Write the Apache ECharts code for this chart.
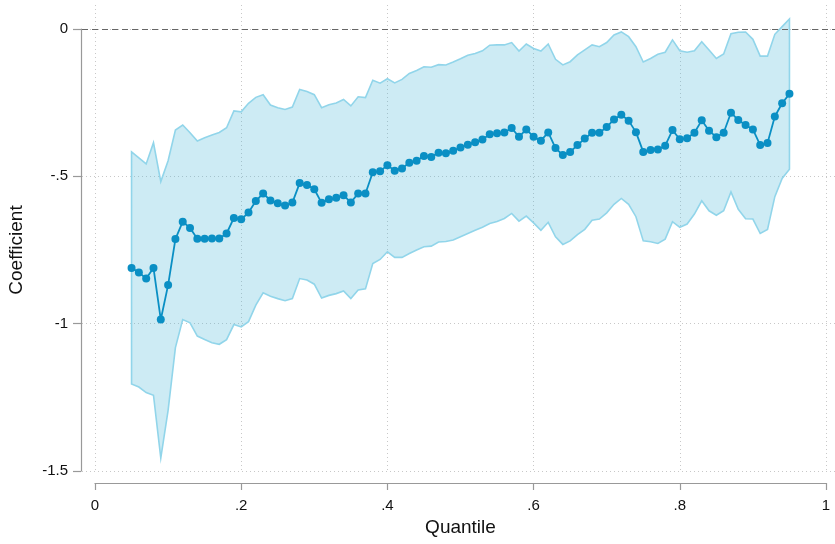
<!DOCTYPE html>
<html>
<head>
<meta charset="utf-8">
<script src="https://cdn.jsdelivr.net/npm/echarts@6/dist/echarts.min.js"></script>
<style>
  html, body { margin: 0; padding: 0; background: #fff; }
  #chart { width: 835px; height: 544px; }
</style>
</head>
<body>
<div id="chart"></div>
<script>
const quantiles = [0.05, 0.06, 0.07, 0.08, 0.09, 0.10, 0.11, 0.12, 0.13, 0.14,
  0.15, 0.16, 0.17, 0.18, 0.19, 0.20, 0.21, 0.22, 0.23, 0.24,
  0.25, 0.26, 0.27, 0.28, 0.29, 0.30, 0.31, 0.32, 0.33, 0.34,
  0.35, 0.36, 0.37, 0.38, 0.39, 0.40, 0.41, 0.42, 0.43, 0.44,
  0.45, 0.46, 0.47, 0.48, 0.49, 0.50, 0.51, 0.52, 0.53, 0.54,
  0.55, 0.56, 0.57, 0.58, 0.59, 0.60, 0.61, 0.62, 0.63, 0.64,
  0.65, 0.66, 0.67, 0.68, 0.69, 0.70, 0.71, 0.72, 0.73, 0.74,
  0.75, 0.76, 0.77, 0.78, 0.79, 0.80, 0.81, 0.82, 0.83, 0.84,
  0.85, 0.86, 0.87, 0.88, 0.89, 0.90, 0.91, 0.92, 0.93, 0.94,
  0.95]

const coef = [-0.811, -0.826, -0.847, -0.811, -0.986, -0.869, -0.713, -0.654, -0.675, -0.712,
  -0.712, -0.711, -0.711, -0.694, -0.641, -0.646, -0.623, -0.584, -0.558, -0.582,
  -0.591, -0.599, -0.589, -0.523, -0.529, -0.544, -0.590, -0.578, -0.573, -0.564,
  -0.589, -0.558, -0.558, -0.486, -0.483, -0.462, -0.481, -0.473, -0.454, -0.447,
  -0.431, -0.434, -0.420, -0.422, -0.413, -0.402, -0.393, -0.384, -0.375, -0.357,
  -0.354, -0.351, -0.336, -0.366, -0.341, -0.366, -0.379, -0.351, -0.404, -0.428,
  -0.417, -0.394, -0.372, -0.352, -0.352, -0.333, -0.307, -0.291, -0.311, -0.350,
  -0.417, -0.411, -0.409, -0.396, -0.343, -0.374, -0.371, -0.352, -0.310, -0.345,
  -0.367, -0.352, -0.284, -0.309, -0.326, -0.341, -0.394, -0.387, -0.297, -0.252,
  -0.220]

const upper = [-0.417, -0.437, -0.458, -0.386, -0.518, -0.447, -0.343, -0.326, -0.352, -0.380,
  -0.369, -0.360, -0.351, -0.335, -0.278, -0.281, -0.252, -0.232, -0.223, -0.258,
  -0.267, -0.273, -0.265, -0.205, -0.212, -0.223, -0.267, -0.257, -0.251, -0.239,
  -0.261, -0.230, -0.233, -0.174, -0.184, -0.169, -0.183, -0.171, -0.151, -0.141,
  -0.128, -0.130, -0.121, -0.122, -0.112, -0.101, -0.089, -0.083, -0.074, -0.055,
  -0.054, -0.054, -0.046, -0.075, -0.051, -0.066, -0.075, -0.051, -0.103, -0.122,
  -0.111, -0.088, -0.071, -0.054, -0.060, -0.046, -0.020, -0.010, -0.026, -0.060,
  -0.112, -0.100, -0.086, -0.079, -0.037, -0.074, -0.079, -0.074, -0.043, -0.071,
  -0.100, -0.085, -0.016, -0.011, -0.010, -0.035, -0.092, -0.092, -0.018, 0.008,
  0.034]

const lower = [-1.205, -1.215, -1.234, -1.243, -1.456, -1.294, -1.081, -0.986, -0.997, -1.042,
  -1.054, -1.065, -1.070, -1.054, -1.003, -1.011, -0.993, -0.937, -0.895, -0.907,
  -0.915, -0.922, -0.915, -0.847, -0.852, -0.866, -0.913, -0.904, -0.898, -0.889,
  -0.915, -0.886, -0.882, -0.796, -0.782, -0.756, -0.775, -0.775, -0.762, -0.750,
  -0.739, -0.737, -0.723, -0.721, -0.716, -0.705, -0.694, -0.683, -0.673, -0.660,
  -0.653, -0.643, -0.626, -0.652, -0.635, -0.658, -0.683, -0.656, -0.705, -0.731,
  -0.719, -0.698, -0.680, -0.649, -0.645, -0.624, -0.595, -0.575, -0.595, -0.637,
  -0.719, -0.722, -0.728, -0.713, -0.654, -0.673, -0.662, -0.628, -0.583, -0.617,
  -0.632, -0.617, -0.553, -0.612, -0.644, -0.645, -0.694, -0.680, -0.569, -0.507,
  -0.476]

const xTicks = { min: 0, max: 1, interval: 0.2 }
const yTicks = { min: -1.5, max: 0, interval: 0.5 }

// stata style labels: .2 / -.5
const fmt = v => {
  const n = parseFloat(v.toFixed(2))
  return String(n).replace(/^(-?)0\./, '$1.')
}

const chart = echarts.init(document.getElementById('chart'))

const font = 'Liberation Sans, Arial, sans-serif'
const gridDot = { color: '#c8c8c8', type: [1, 3], width: 1 }

const option = {
  animation: false,
  backgroundColor: '#fff',
  grid: [
    // data + axes
    { left: 95, right: 9, top: 29, bottom: 73, containLabel: false, outerBoundsMode: 'none' },
    // vertical gridlines (run to the top of plot region)
    { left: 95, right: 9, top: 5, bottom: 73, containLabel: false, outerBoundsMode: 'none' },
    // horizontal gridlines (run across whole plot region)
    { left: 82, right: 0, top: 29, bottom: 73, containLabel: false, outerBoundsMode: 'none' }
  ],
  xAxis: [
    {
      gridIndex: 0, type: 'value', ...xTicks,
      offset: 12,
      name: 'Quantile', nameLocation: 'middle', nameGap: 34,
      nameTextStyle: { fontFamily: font, fontSize: 19, color: '#111' },
      axisLine: { onZero: false, lineStyle: { color: '#999', width: 1.2 } },
      axisTick: { length: 7, lineStyle: { color: '#999', width: 1.2 } },
      axisLabel: { formatter: fmt, fontFamily: font, fontSize: 15, color: '#111', margin: 15 },
      splitLine: { show: false }
    },
    {
      gridIndex: 1, type: 'value', ...xTicks,
      axisLine: { show: false }, axisTick: { show: false }, axisLabel: { show: false },
      splitLine: { show: true, lineStyle: gridDot }
    },
    {
      gridIndex: 2, type: 'value', min: 0, max: 1, show: false
    }
  ],
  yAxis: [
    {
      gridIndex: 0, type: 'value', ...yTicks,
      offset: 14,
      name: 'Coefficient', nameLocation: 'middle', nameGap: 55,
      nameTextStyle: { fontFamily: font, fontSize: 19, color: '#111' },
      axisLine: { show: true, onZero: false, lineStyle: { color: '#999', width: 1.2 } },
      axisTick: { show: true, length: 8, lineStyle: { color: '#999', width: 1.2 } },
      axisLabel: { formatter: fmt, fontFamily: font, fontSize: 15, color: '#111', margin: 13 },
      splitLine: { show: false }
    },
    {
      gridIndex: 1, type: 'value', min: 0, max: 1, show: false
    },
    {
      gridIndex: 2, type: 'value', ...yTicks,
      axisLine: { show: false }, axisTick: { show: false }, axisLabel: { show: false },
      splitLine: { show: true, lineStyle: gridDot }
    }
  ],
  series: [
    {
      // zero reference line
      type: 'line', xAxisIndex: 2, yAxisIndex: 2,
      data: [], symbol: 'none', silent: true,
      markLine: {
        symbol: 'none', silent: true, label: { show: false },
        lineStyle: { color: '#666', type: [6, 4], width: 1.2 },
        data: [{ yAxis: 0 }]
      },
      z: 5
    },
    {
      // confidence band
      type: 'custom', xAxisIndex: 0, yAxisIndex: 0,
      data: quantiles.map((q, i) => [q, lower[i], upper[i]]),
      encode: { x: 0, y: [1, 2] },
      renderItem: function (params, api) {
        if (params.dataIndex !== 0) return
        const pts = []
        quantiles.forEach((q, i) => pts.push(api.coord([q, upper[i]])))
        for (let i = quantiles.length - 1; i >= 0; i--) pts.push(api.coord([quantiles[i], lower[i]]))
        return {
          type: 'polygon',
          shape: { points: pts },
          style: { fill: 'rgba(72,182,216,0.27)', stroke: '#91d5ea', lineWidth: 1.6 }
        }
      },
      z: 2
    },
    {
      type: 'line', xAxisIndex: 0, yAxisIndex: 0,
      data: quantiles.map((q, i) => [q, coef[i]]),
      symbol: 'circle', symbolSize: 8,
      itemStyle: { color: '#0a8fc4' },
      lineStyle: { color: '#0a8fc4', width: 1.8 },
      z: 3
    }
  ]
}

chart.setOption(option)
</script>
</body>
</html>
